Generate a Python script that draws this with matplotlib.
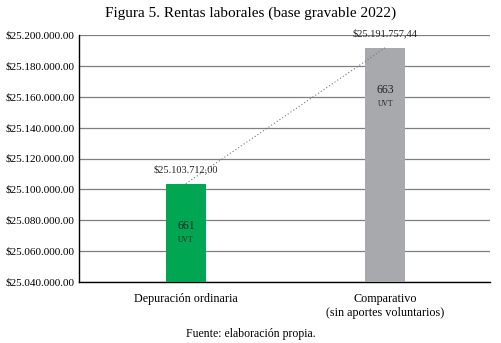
import numpy as np
import matplotlib.pyplot as plt
from matplotlib.ticker import FuncFormatter

categorias = ['Depuración ordinaria', 'Comparativo\n(sin aportes voluntarios)']
valores = [25103712.00, 25191757.44]
etiquetas_valor = ['$25.103.712,00', '$25.191.757,44']
uvt = ['661', '663']
colores = ['#00a651', '#a7a9ac']
ticks_y = np.arange(25040000, 25200001, 20000)

plt.rcParams['font.family'] = ['Liberation Serif', 'DejaVu Serif']

fig = plt.figure(figsize=(5.01, 3.43), dpi=100)
ax = fig.add_axes([79 / 501, 1 - 282 / 343, 411 / 501, 247 / 343])

x = np.arange(len(categorias))
base = ticks_y[0]
ax.bar(x, np.array(valores) - base, bottom=base, width=0.2, color=colores, zorder=3)

# línea punteada entre los topes de las barras
ax.plot(x, valores, linestyle=(0, (1, 2)), color='#777777', linewidth=0.8, zorder=4)

for xi, v, et, u in zip(x, valores, etiquetas_valor, uvt):
    ax.text(xi, v + 9000, et, ha='center', va='center', fontsize=7.5, color='#222222', zorder=5)
    ax.text(xi, v - 27500, u, ha='center', va='center', fontsize=8.5, color='#222222', zorder=5)
    ax.text(xi, v - 36500, 'UVT', ha='center', va='center', fontsize=5.5, color='#222222', zorder=5)

ax.set_xlim(-0.536, 1.526)
ax.set_ylim(ticks_y[0], ticks_y[-1])
ax.set_yticks(ticks_y)
ax.yaxis.set_major_formatter(FuncFormatter(lambda v, p: '${:,.2f}'.format(v).replace(',', '.')))
ax.set_xticks(x)
ax.set_xticklabels(categorias, fontsize=8.7)
ax.tick_params(axis='y', length=0, labelsize=8, pad=3)
ax.tick_params(axis='x', length=0, pad=8)
ax.grid(axis='y', color='#7f7f7f', linewidth=0.9, zorder=0)
ax.set_axisbelow(True)
for s in ['top', 'right']:
    ax.spines[s].set_visible(False)
ax.spines['left'].set_color('black')
ax.spines['bottom'].set_color('black')
ax.spines['left'].set_linewidth(1.0)
ax.spines['bottom'].set_linewidth(1.0)

fig.text(0.5, 1 - 13 / 343, 'Figura 5. Rentas laborales (base gravable 2022)', ha='center', va='center', fontsize=11)
fig.text(0.5, 1 - 334 / 343, 'Fuente: elaboración propia.', ha='center', va='center', fontsize=8.5)

fig.savefig('out.png', dpi=100)
